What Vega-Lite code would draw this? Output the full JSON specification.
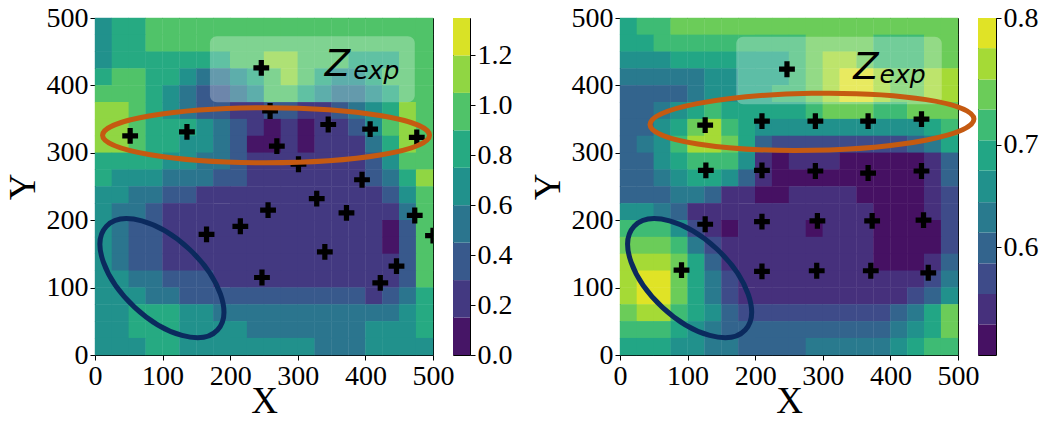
{"$schema":"https://vega.github.io/schema/vega-lite/v6.json","background":"white","padding":{"left":3,"top":3,"right":0,"bottom":0},
"config":{"font":"Liberation Serif","view":{"stroke":"black","strokeWidth":1},"axis":{"labelFont":"Liberation Serif","labelFontSize":28,"labelColor":"black","titleFont":"Liberation Serif","titleFontSize":37,"titleFontWeight":"normal","titleColor":"black","tickColor":"black","tickSize":5,"tickWidth":1,"domain":false,"grid":false,"labelFlush":false,"labelOverlap":false,"labelPadding":2,"titlePadding":4},"axisX":{"titlePadding":-7}},
"datasets":{
"LP":[{"x":52,"y":325},{"x":136,"y":331},{"x":246,"y":426},{"x":259,"y":362},{"x":345,"y":342},{"x":407,"y":335},{"x":476,"y":323},{"x":269,"y":310},{"x":301,"y":283},{"x":395,"y":260},{"x":328,"y":232},{"x":256,"y":215},{"x":372,"y":211},{"x":473,"y":207},{"x":500,"y":177},{"x":340,"y":153},{"x":446,"y":132},{"x":422,"y":107},{"x":247,"y":115},{"x":165,"y":179},{"x":215,"y":191}],
"RP":[{"x":126,"y":341},{"x":210,"y":347},{"x":289,"y":347},{"x":367,"y":347},{"x":446,"y":350},{"x":127,"y":274},{"x":210,"y":274},{"x":289,"y":273},{"x":367,"y":270},{"x":446,"y":273},{"x":126,"y":194},{"x":210,"y":198},{"x":292,"y":199},{"x":373,"y":199},{"x":449,"y":200},{"x":91,"y":126},{"x":210,"y":124},{"x":291,"y":125},{"x":371,"y":125},{"x":456,"y":122},{"x":247,"y":424}],
"LC":[{"lo":0,"hi":0.15,"z":0.07},{"lo":0.15,"hi":0.3,"z":0.22},{"lo":0.3,"hi":0.45,"z":0.37},{"lo":0.45,"hi":0.6,"z":0.52},{"lo":0.6,"hi":0.75,"z":0.67},{"lo":0.75,"hi":0.9,"z":0.82},{"lo":0.9,"hi":1.05,"z":0.97},{"lo":1.05,"hi":1.2,"z":1.12},{"lo":1.2,"hi":1.35,"z":1.27}],
"RC":[{"lo":0.457,"hi":0.504,"z":0.48},{"lo":0.504,"hi":0.545,"z":0.52},{"lo":0.545,"hi":0.582,"z":0.56},{"lo":0.582,"hi":0.616,"z":0.6},{"lo":0.616,"hi":0.647,"z":0.63},{"lo":0.647,"hi":0.677,"z":0.66},{"lo":0.677,"hi":0.704,"z":0.69},{"lo":0.704,"hi":0.73,"z":0.72},{"lo":0.73,"hi":0.754,"z":0.74},{"lo":0.754,"hi":0.778,"z":0.77},{"lo":0.778,"hi":0.8,"z":0.79}],
"L":[
{"x":12.5,"y":487.5,"z":0.67},{"x":37.5,"y":487.5,"z":0.82},{"x":62.5,"y":487.5,"z":0.82},{"x":87.5,"y":487.5,"z":0.97},{"x":112.5,"y":487.5,"z":0.97},{"x":137.5,"y":487.5,"z":0.97},{"x":162.5,"y":487.5,"z":0.97},{"x":187.5,"y":487.5,"z":0.97},{"x":212.5,"y":487.5,"z":0.97},{"x":237.5,"y":487.5,"z":0.97},{"x":262.5,"y":487.5,"z":0.97},{"x":287.5,"y":487.5,"z":0.97},{"x":312.5,"y":487.5,"z":0.97},{"x":337.5,"y":487.5,"z":0.97},{"x":362.5,"y":487.5,"z":0.97},{"x":387.5,"y":487.5,"z":0.97},{"x":412.5,"y":487.5,"z":0.97},{"x":437.5,"y":487.5,"z":0.97},{"x":462.5,"y":487.5,"z":0.97},{"x":487.5,"y":487.5,"z":0.97},
{"x":12.5,"y":462.5,"z":0.67},{"x":37.5,"y":462.5,"z":0.82},{"x":62.5,"y":462.5,"z":0.82},{"x":87.5,"y":462.5,"z":0.97},{"x":112.5,"y":462.5,"z":0.97},{"x":137.5,"y":462.5,"z":0.97},{"x":162.5,"y":462.5,"z":0.97},{"x":187.5,"y":462.5,"z":0.97},{"x":212.5,"y":462.5,"z":0.97},{"x":237.5,"y":462.5,"z":0.97},{"x":262.5,"y":462.5,"z":0.97},{"x":287.5,"y":462.5,"z":0.97},{"x":312.5,"y":462.5,"z":0.97},{"x":337.5,"y":462.5,"z":0.97},{"x":362.5,"y":462.5,"z":0.97},{"x":387.5,"y":462.5,"z":0.97},{"x":412.5,"y":462.5,"z":0.97},{"x":437.5,"y":462.5,"z":0.97},{"x":462.5,"y":462.5,"z":0.97},{"x":487.5,"y":462.5,"z":0.97},
{"x":12.5,"y":437.5,"z":0.67},{"x":37.5,"y":437.5,"z":0.82},{"x":62.5,"y":437.5,"z":0.82},{"x":87.5,"y":437.5,"z":0.82},{"x":112.5,"y":437.5,"z":0.82},{"x":137.5,"y":437.5,"z":0.82},{"x":162.5,"y":437.5,"z":0.82},{"x":187.5,"y":437.5,"z":0.82},{"x":212.5,"y":437.5,"z":0.97},{"x":237.5,"y":437.5,"z":0.97},{"x":262.5,"y":437.5,"z":1.12},{"x":287.5,"y":437.5,"z":1.12},{"x":312.5,"y":437.5,"z":0.97},{"x":337.5,"y":437.5,"z":0.97},{"x":362.5,"y":437.5,"z":0.97},{"x":387.5,"y":437.5,"z":0.82},{"x":412.5,"y":437.5,"z":0.82},{"x":437.5,"y":437.5,"z":0.82},{"x":462.5,"y":437.5,"z":0.97},{"x":487.5,"y":437.5,"z":0.97},
{"x":12.5,"y":412.5,"z":0.82},{"x":37.5,"y":412.5,"z":0.97},{"x":62.5,"y":412.5,"z":0.97},{"x":87.5,"y":412.5,"z":0.82},{"x":112.5,"y":412.5,"z":0.82},{"x":137.5,"y":412.5,"z":0.67},{"x":162.5,"y":412.5,"z":0.52},{"x":187.5,"y":412.5,"z":0.52},{"x":212.5,"y":412.5,"z":0.67},{"x":237.5,"y":412.5,"z":0.82},{"x":262.5,"y":412.5,"z":0.97},{"x":287.5,"y":412.5,"z":1.12},{"x":312.5,"y":412.5,"z":0.97},{"x":337.5,"y":412.5,"z":0.82},{"x":362.5,"y":412.5,"z":0.67},{"x":387.5,"y":412.5,"z":0.67},{"x":412.5,"y":412.5,"z":0.82},{"x":437.5,"y":412.5,"z":0.97},{"x":462.5,"y":412.5,"z":0.97},{"x":487.5,"y":412.5,"z":0.97},
{"x":12.5,"y":387.5,"z":0.97},{"x":37.5,"y":387.5,"z":0.97},{"x":62.5,"y":387.5,"z":0.97},{"x":87.5,"y":387.5,"z":0.82},{"x":112.5,"y":387.5,"z":0.67},{"x":137.5,"y":387.5,"z":0.52},{"x":162.5,"y":387.5,"z":0.37},{"x":187.5,"y":387.5,"z":0.37},{"x":212.5,"y":387.5,"z":0.52},{"x":237.5,"y":387.5,"z":0.67},{"x":262.5,"y":387.5,"z":0.97},{"x":287.5,"y":387.5,"z":0.97},{"x":312.5,"y":387.5,"z":0.82},{"x":337.5,"y":387.5,"z":0.67},{"x":362.5,"y":387.5,"z":0.52},{"x":387.5,"y":387.5,"z":0.52},{"x":412.5,"y":387.5,"z":0.67},{"x":437.5,"y":387.5,"z":0.82},{"x":462.5,"y":387.5,"z":0.97},{"x":487.5,"y":387.5,"z":0.97},
{"x":12.5,"y":362.5,"z":1.12},{"x":37.5,"y":362.5,"z":1.12},{"x":62.5,"y":362.5,"z":0.97},{"x":87.5,"y":362.5,"z":0.82},{"x":112.5,"y":362.5,"z":0.67},{"x":137.5,"y":362.5,"z":0.52},{"x":162.5,"y":362.5,"z":0.37},{"x":187.5,"y":362.5,"z":0.37},{"x":212.5,"y":362.5,"z":0.22},{"x":237.5,"y":362.5,"z":0.22},{"x":262.5,"y":362.5,"z":0.37},{"x":287.5,"y":362.5,"z":0.37},{"x":312.5,"y":362.5,"z":0.22},{"x":337.5,"y":362.5,"z":0.22},{"x":362.5,"y":362.5,"z":0.37},{"x":387.5,"y":362.5,"z":0.52},{"x":412.5,"y":362.5,"z":0.67},{"x":437.5,"y":362.5,"z":0.82},{"x":462.5,"y":362.5,"z":1.12},{"x":487.5,"y":362.5,"z":0.97},
{"x":12.5,"y":337.5,"z":1.12},{"x":37.5,"y":337.5,"z":1.12},{"x":62.5,"y":337.5,"z":0.97},{"x":87.5,"y":337.5,"z":0.82},{"x":112.5,"y":337.5,"z":0.82},{"x":137.5,"y":337.5,"z":0.82},{"x":162.5,"y":337.5,"z":0.67},{"x":187.5,"y":337.5,"z":0.52},{"x":212.5,"y":337.5,"z":0.37},{"x":237.5,"y":337.5,"z":0.22},{"x":262.5,"y":337.5,"z":0.07},{"x":287.5,"y":337.5,"z":0.22},{"x":312.5,"y":337.5,"z":0.07},{"x":337.5,"y":337.5,"z":0.22},{"x":362.5,"y":337.5,"z":0.22},{"x":387.5,"y":337.5,"z":0.37},{"x":412.5,"y":337.5,"z":0.67},{"x":437.5,"y":337.5,"z":0.97},{"x":462.5,"y":337.5,"z":1.12},{"x":487.5,"y":337.5,"z":0.97},
{"x":12.5,"y":312.5,"z":1.12},{"x":37.5,"y":312.5,"z":1.12},{"x":62.5,"y":312.5,"z":0.97},{"x":87.5,"y":312.5,"z":0.82},{"x":112.5,"y":312.5,"z":0.82},{"x":137.5,"y":312.5,"z":0.67},{"x":162.5,"y":312.5,"z":0.67},{"x":187.5,"y":312.5,"z":0.52},{"x":212.5,"y":312.5,"z":0.37},{"x":237.5,"y":312.5,"z":0.07},{"x":262.5,"y":312.5,"z":0.07},{"x":287.5,"y":312.5,"z":0.22},{"x":312.5,"y":312.5,"z":0.07},{"x":337.5,"y":312.5,"z":0.22},{"x":362.5,"y":312.5,"z":0.22},{"x":387.5,"y":312.5,"z":0.22},{"x":412.5,"y":312.5,"z":0.52},{"x":437.5,"y":312.5,"z":0.82},{"x":462.5,"y":312.5,"z":1.12},{"x":487.5,"y":312.5,"z":0.97},
{"x":12.5,"y":287.5,"z":0.82},{"x":37.5,"y":287.5,"z":0.82},{"x":62.5,"y":287.5,"z":0.82},{"x":87.5,"y":287.5,"z":0.82},{"x":112.5,"y":287.5,"z":0.67},{"x":137.5,"y":287.5,"z":0.67},{"x":162.5,"y":287.5,"z":0.52},{"x":187.5,"y":287.5,"z":0.52},{"x":212.5,"y":287.5,"z":0.37},{"x":237.5,"y":287.5,"z":0.22},{"x":262.5,"y":287.5,"z":0.22},{"x":287.5,"y":287.5,"z":0.22},{"x":312.5,"y":287.5,"z":0.22},{"x":337.5,"y":287.5,"z":0.22},{"x":362.5,"y":287.5,"z":0.22},{"x":387.5,"y":287.5,"z":0.22},{"x":412.5,"y":287.5,"z":0.37},{"x":437.5,"y":287.5,"z":0.67},{"x":462.5,"y":287.5,"z":0.97},{"x":487.5,"y":287.5,"z":0.97},
{"x":12.5,"y":262.5,"z":0.82},{"x":37.5,"y":262.5,"z":0.67},{"x":62.5,"y":262.5,"z":0.67},{"x":87.5,"y":262.5,"z":0.67},{"x":112.5,"y":262.5,"z":0.52},{"x":137.5,"y":262.5,"z":0.52},{"x":162.5,"y":262.5,"z":0.52},{"x":187.5,"y":262.5,"z":0.37},{"x":212.5,"y":262.5,"z":0.37},{"x":237.5,"y":262.5,"z":0.22},{"x":262.5,"y":262.5,"z":0.22},{"x":287.5,"y":262.5,"z":0.22},{"x":312.5,"y":262.5,"z":0.22},{"x":337.5,"y":262.5,"z":0.22},{"x":362.5,"y":262.5,"z":0.22},{"x":387.5,"y":262.5,"z":0.22},{"x":412.5,"y":262.5,"z":0.37},{"x":437.5,"y":262.5,"z":0.52},{"x":462.5,"y":262.5,"z":0.82},{"x":487.5,"y":262.5,"z":1.12},
{"x":12.5,"y":237.5,"z":0.67},{"x":37.5,"y":237.5,"z":0.67},{"x":62.5,"y":237.5,"z":0.52},{"x":87.5,"y":237.5,"z":0.52},{"x":112.5,"y":237.5,"z":0.37},{"x":137.5,"y":237.5,"z":0.37},{"x":162.5,"y":237.5,"z":0.22},{"x":187.5,"y":237.5,"z":0.22},{"x":212.5,"y":237.5,"z":0.22},{"x":237.5,"y":237.5,"z":0.22},{"x":262.5,"y":237.5,"z":0.22},{"x":287.5,"y":237.5,"z":0.22},{"x":312.5,"y":237.5,"z":0.22},{"x":337.5,"y":237.5,"z":0.22},{"x":362.5,"y":237.5,"z":0.22},{"x":387.5,"y":237.5,"z":0.22},{"x":412.5,"y":237.5,"z":0.22},{"x":437.5,"y":237.5,"z":0.37},{"x":462.5,"y":237.5,"z":0.67},{"x":487.5,"y":237.5,"z":0.97},
{"x":12.5,"y":212.5,"z":0.67},{"x":37.5,"y":212.5,"z":0.52},{"x":62.5,"y":212.5,"z":0.52},{"x":87.5,"y":212.5,"z":0.37},{"x":112.5,"y":212.5,"z":0.22},{"x":137.5,"y":212.5,"z":0.22},{"x":162.5,"y":212.5,"z":0.22},{"x":187.5,"y":212.5,"z":0.22},{"x":212.5,"y":212.5,"z":0.22},{"x":237.5,"y":212.5,"z":0.22},{"x":262.5,"y":212.5,"z":0.22},{"x":287.5,"y":212.5,"z":0.22},{"x":312.5,"y":212.5,"z":0.22},{"x":337.5,"y":212.5,"z":0.22},{"x":362.5,"y":212.5,"z":0.22},{"x":387.5,"y":212.5,"z":0.22},{"x":412.5,"y":212.5,"z":0.22},{"x":437.5,"y":212.5,"z":0.22},{"x":462.5,"y":212.5,"z":0.52},{"x":487.5,"y":212.5,"z":0.97},
{"x":12.5,"y":187.5,"z":0.67},{"x":37.5,"y":187.5,"z":0.52},{"x":62.5,"y":187.5,"z":0.37},{"x":87.5,"y":187.5,"z":0.37},{"x":112.5,"y":187.5,"z":0.22},{"x":137.5,"y":187.5,"z":0.22},{"x":162.5,"y":187.5,"z":0.22},{"x":187.5,"y":187.5,"z":0.22},{"x":212.5,"y":187.5,"z":0.22},{"x":237.5,"y":187.5,"z":0.22},{"x":262.5,"y":187.5,"z":0.22},{"x":287.5,"y":187.5,"z":0.22},{"x":312.5,"y":187.5,"z":0.22},{"x":337.5,"y":187.5,"z":0.22},{"x":362.5,"y":187.5,"z":0.22},{"x":387.5,"y":187.5,"z":0.22},{"x":412.5,"y":187.5,"z":0.22},{"x":437.5,"y":187.5,"z":0.07},{"x":462.5,"y":187.5,"z":0.37},{"x":487.5,"y":187.5,"z":0.97},
{"x":12.5,"y":162.5,"z":0.67},{"x":37.5,"y":162.5,"z":0.52},{"x":62.5,"y":162.5,"z":0.37},{"x":87.5,"y":162.5,"z":0.37},{"x":112.5,"y":162.5,"z":0.22},{"x":137.5,"y":162.5,"z":0.22},{"x":162.5,"y":162.5,"z":0.22},{"x":187.5,"y":162.5,"z":0.22},{"x":212.5,"y":162.5,"z":0.22},{"x":237.5,"y":162.5,"z":0.22},{"x":262.5,"y":162.5,"z":0.22},{"x":287.5,"y":162.5,"z":0.22},{"x":312.5,"y":162.5,"z":0.22},{"x":337.5,"y":162.5,"z":0.22},{"x":362.5,"y":162.5,"z":0.22},{"x":387.5,"y":162.5,"z":0.22},{"x":412.5,"y":162.5,"z":0.22},{"x":437.5,"y":162.5,"z":0.07},{"x":462.5,"y":162.5,"z":0.37},{"x":487.5,"y":162.5,"z":0.97},
{"x":12.5,"y":137.5,"z":0.67},{"x":37.5,"y":137.5,"z":0.52},{"x":62.5,"y":137.5,"z":0.37},{"x":87.5,"y":137.5,"z":0.37},{"x":112.5,"y":137.5,"z":0.22},{"x":137.5,"y":137.5,"z":0.22},{"x":162.5,"y":137.5,"z":0.22},{"x":187.5,"y":137.5,"z":0.22},{"x":212.5,"y":137.5,"z":0.22},{"x":237.5,"y":137.5,"z":0.22},{"x":262.5,"y":137.5,"z":0.22},{"x":287.5,"y":137.5,"z":0.22},{"x":312.5,"y":137.5,"z":0.22},{"x":337.5,"y":137.5,"z":0.22},{"x":362.5,"y":137.5,"z":0.22},{"x":387.5,"y":137.5,"z":0.22},{"x":412.5,"y":137.5,"z":0.22},{"x":437.5,"y":137.5,"z":0.22},{"x":462.5,"y":137.5,"z":0.37},{"x":487.5,"y":137.5,"z":0.97},
{"x":12.5,"y":112.5,"z":0.67},{"x":37.5,"y":112.5,"z":0.67},{"x":62.5,"y":112.5,"z":0.52},{"x":87.5,"y":112.5,"z":0.52},{"x":112.5,"y":112.5,"z":0.37},{"x":137.5,"y":112.5,"z":0.37},{"x":162.5,"y":112.5,"z":0.37},{"x":187.5,"y":112.5,"z":0.22},{"x":212.5,"y":112.5,"z":0.22},{"x":237.5,"y":112.5,"z":0.22},{"x":262.5,"y":112.5,"z":0.22},{"x":287.5,"y":112.5,"z":0.22},{"x":312.5,"y":112.5,"z":0.22},{"x":337.5,"y":112.5,"z":0.22},{"x":362.5,"y":112.5,"z":0.22},{"x":387.5,"y":112.5,"z":0.22},{"x":412.5,"y":112.5,"z":0.22},{"x":437.5,"y":112.5,"z":0.22},{"x":462.5,"y":112.5,"z":0.37},{"x":487.5,"y":112.5,"z":0.97},
{"x":12.5,"y":87.5,"z":0.67},{"x":37.5,"y":87.5,"z":0.67},{"x":62.5,"y":87.5,"z":0.67},{"x":87.5,"y":87.5,"z":0.52},{"x":112.5,"y":87.5,"z":0.52},{"x":137.5,"y":87.5,"z":0.37},{"x":162.5,"y":87.5,"z":0.37},{"x":187.5,"y":87.5,"z":0.37},{"x":212.5,"y":87.5,"z":0.37},{"x":237.5,"y":87.5,"z":0.37},{"x":262.5,"y":87.5,"z":0.37},{"x":287.5,"y":87.5,"z":0.37},{"x":312.5,"y":87.5,"z":0.37},{"x":337.5,"y":87.5,"z":0.37},{"x":362.5,"y":87.5,"z":0.37},{"x":387.5,"y":87.5,"z":0.37},{"x":412.5,"y":87.5,"z":0.22},{"x":437.5,"y":87.5,"z":0.37},{"x":462.5,"y":87.5,"z":0.52},{"x":487.5,"y":87.5,"z":0.82},
{"x":12.5,"y":62.5,"z":0.67},{"x":37.5,"y":62.5,"z":0.67},{"x":62.5,"y":62.5,"z":0.82},{"x":87.5,"y":62.5,"z":0.82},{"x":112.5,"y":62.5,"z":0.82},{"x":137.5,"y":62.5,"z":0.67},{"x":162.5,"y":62.5,"z":0.67},{"x":187.5,"y":62.5,"z":0.52},{"x":212.5,"y":62.5,"z":0.52},{"x":237.5,"y":62.5,"z":0.52},{"x":262.5,"y":62.5,"z":0.52},{"x":287.5,"y":62.5,"z":0.52},{"x":312.5,"y":62.5,"z":0.52},{"x":337.5,"y":62.5,"z":0.52},{"x":362.5,"y":62.5,"z":0.52},{"x":387.5,"y":62.5,"z":0.52},{"x":412.5,"y":62.5,"z":0.52},{"x":437.5,"y":62.5,"z":0.52},{"x":462.5,"y":62.5,"z":0.67},{"x":487.5,"y":62.5,"z":0.82},
{"x":12.5,"y":37.5,"z":0.67},{"x":37.5,"y":37.5,"z":0.67},{"x":62.5,"y":37.5,"z":0.82},{"x":87.5,"y":37.5,"z":0.82},{"x":112.5,"y":37.5,"z":0.82},{"x":137.5,"y":37.5,"z":0.67},{"x":162.5,"y":37.5,"z":0.67},{"x":187.5,"y":37.5,"z":0.67},{"x":212.5,"y":37.5,"z":0.67},{"x":237.5,"y":37.5,"z":0.52},{"x":262.5,"y":37.5,"z":0.52},{"x":287.5,"y":37.5,"z":0.52},{"x":312.5,"y":37.5,"z":0.52},{"x":337.5,"y":37.5,"z":0.52},{"x":362.5,"y":37.5,"z":0.52},{"x":387.5,"y":37.5,"z":0.52},{"x":412.5,"y":37.5,"z":0.67},{"x":437.5,"y":37.5,"z":0.67},{"x":462.5,"y":37.5,"z":0.67},{"x":487.5,"y":37.5,"z":0.82},
{"x":12.5,"y":12.5,"z":0.67},{"x":37.5,"y":12.5,"z":0.67},{"x":62.5,"y":12.5,"z":0.67},{"x":87.5,"y":12.5,"z":0.82},{"x":112.5,"y":12.5,"z":0.82},{"x":137.5,"y":12.5,"z":0.67},{"x":162.5,"y":12.5,"z":0.67},{"x":187.5,"y":12.5,"z":0.67},{"x":212.5,"y":12.5,"z":0.67},{"x":237.5,"y":12.5,"z":0.67},{"x":262.5,"y":12.5,"z":0.67},{"x":287.5,"y":12.5,"z":0.67},{"x":312.5,"y":12.5,"z":0.67},{"x":337.5,"y":12.5,"z":0.52},{"x":362.5,"y":12.5,"z":0.52},{"x":387.5,"y":12.5,"z":0.52},{"x":412.5,"y":12.5,"z":0.67},{"x":437.5,"y":12.5,"z":0.67},{"x":462.5,"y":12.5,"z":0.67},{"x":487.5,"y":12.5,"z":0.67}],
"R":[
{"x":12.5,"y":487.5,"z":0.69},{"x":37.5,"y":487.5,"z":0.72},{"x":62.5,"y":487.5,"z":0.72},{"x":87.5,"y":487.5,"z":0.74},{"x":112.5,"y":487.5,"z":0.74},{"x":137.5,"y":487.5,"z":0.74},{"x":162.5,"y":487.5,"z":0.74},{"x":187.5,"y":487.5,"z":0.74},{"x":212.5,"y":487.5,"z":0.74},{"x":237.5,"y":487.5,"z":0.74},{"x":262.5,"y":487.5,"z":0.74},{"x":287.5,"y":487.5,"z":0.74},{"x":312.5,"y":487.5,"z":0.74},{"x":337.5,"y":487.5,"z":0.74},{"x":362.5,"y":487.5,"z":0.74},{"x":387.5,"y":487.5,"z":0.74},{"x":412.5,"y":487.5,"z":0.74},{"x":437.5,"y":487.5,"z":0.74},{"x":462.5,"y":487.5,"z":0.74},{"x":487.5,"y":487.5,"z":0.74},
{"x":12.5,"y":462.5,"z":0.69},{"x":37.5,"y":462.5,"z":0.69},{"x":62.5,"y":462.5,"z":0.72},{"x":87.5,"y":462.5,"z":0.72},{"x":112.5,"y":462.5,"z":0.72},{"x":137.5,"y":462.5,"z":0.72},{"x":162.5,"y":462.5,"z":0.72},{"x":187.5,"y":462.5,"z":0.72},{"x":212.5,"y":462.5,"z":0.72},{"x":237.5,"y":462.5,"z":0.72},{"x":262.5,"y":462.5,"z":0.72},{"x":287.5,"y":462.5,"z":0.74},{"x":312.5,"y":462.5,"z":0.74},{"x":337.5,"y":462.5,"z":0.74},{"x":362.5,"y":462.5,"z":0.74},{"x":387.5,"y":462.5,"z":0.72},{"x":412.5,"y":462.5,"z":0.72},{"x":437.5,"y":462.5,"z":0.72},{"x":462.5,"y":462.5,"z":0.74},{"x":487.5,"y":462.5,"z":0.74},
{"x":12.5,"y":437.5,"z":0.66},{"x":37.5,"y":437.5,"z":0.66},{"x":62.5,"y":437.5,"z":0.66},{"x":87.5,"y":437.5,"z":0.69},{"x":112.5,"y":437.5,"z":0.69},{"x":137.5,"y":437.5,"z":0.69},{"x":162.5,"y":437.5,"z":0.69},{"x":187.5,"y":437.5,"z":0.69},{"x":212.5,"y":437.5,"z":0.69},{"x":237.5,"y":437.5,"z":0.69},{"x":262.5,"y":437.5,"z":0.72},{"x":287.5,"y":437.5,"z":0.74},{"x":312.5,"y":437.5,"z":0.77},{"x":337.5,"y":437.5,"z":0.77},{"x":362.5,"y":437.5,"z":0.74},{"x":387.5,"y":437.5,"z":0.72},{"x":412.5,"y":437.5,"z":0.72},{"x":437.5,"y":437.5,"z":0.72},{"x":462.5,"y":437.5,"z":0.74},{"x":487.5,"y":437.5,"z":0.74},
{"x":12.5,"y":412.5,"z":0.63},{"x":37.5,"y":412.5,"z":0.63},{"x":62.5,"y":412.5,"z":0.63},{"x":87.5,"y":412.5,"z":0.63},{"x":112.5,"y":412.5,"z":0.63},{"x":137.5,"y":412.5,"z":0.66},{"x":162.5,"y":412.5,"z":0.66},{"x":187.5,"y":412.5,"z":0.69},{"x":212.5,"y":412.5,"z":0.69},{"x":237.5,"y":412.5,"z":0.69},{"x":262.5,"y":412.5,"z":0.72},{"x":287.5,"y":412.5,"z":0.74},{"x":312.5,"y":412.5,"z":0.77},{"x":337.5,"y":412.5,"z":0.79},{"x":362.5,"y":412.5,"z":0.79},{"x":387.5,"y":412.5,"z":0.77},{"x":412.5,"y":412.5,"z":0.74},{"x":437.5,"y":412.5,"z":0.74},{"x":462.5,"y":412.5,"z":0.77},{"x":487.5,"y":412.5,"z":0.77},
{"x":12.5,"y":387.5,"z":0.6},{"x":37.5,"y":387.5,"z":0.6},{"x":62.5,"y":387.5,"z":0.6},{"x":87.5,"y":387.5,"z":0.6},{"x":112.5,"y":387.5,"z":0.63},{"x":137.5,"y":387.5,"z":0.66},{"x":162.5,"y":387.5,"z":0.66},{"x":187.5,"y":387.5,"z":0.69},{"x":212.5,"y":387.5,"z":0.69},{"x":237.5,"y":387.5,"z":0.72},{"x":262.5,"y":387.5,"z":0.72},{"x":287.5,"y":387.5,"z":0.74},{"x":312.5,"y":387.5,"z":0.77},{"x":337.5,"y":387.5,"z":0.79},{"x":362.5,"y":387.5,"z":0.79},{"x":387.5,"y":387.5,"z":0.77},{"x":412.5,"y":387.5,"z":0.74},{"x":437.5,"y":387.5,"z":0.74},{"x":462.5,"y":387.5,"z":0.77},{"x":487.5,"y":387.5,"z":0.77},
{"x":12.5,"y":362.5,"z":0.6},{"x":37.5,"y":362.5,"z":0.6},{"x":62.5,"y":362.5,"z":0.63},{"x":87.5,"y":362.5,"z":0.66},{"x":112.5,"y":362.5,"z":0.69},{"x":137.5,"y":362.5,"z":0.72},{"x":162.5,"y":362.5,"z":0.69},{"x":187.5,"y":362.5,"z":0.69},{"x":212.5,"y":362.5,"z":0.69},{"x":237.5,"y":362.5,"z":0.69},{"x":262.5,"y":362.5,"z":0.69},{"x":287.5,"y":362.5,"z":0.72},{"x":312.5,"y":362.5,"z":0.74},{"x":337.5,"y":362.5,"z":0.74},{"x":362.5,"y":362.5,"z":0.74},{"x":387.5,"y":362.5,"z":0.72},{"x":412.5,"y":362.5,"z":0.72},{"x":437.5,"y":362.5,"z":0.74},{"x":462.5,"y":362.5,"z":0.74},{"x":487.5,"y":362.5,"z":0.74},
{"x":12.5,"y":337.5,"z":0.6},{"x":37.5,"y":337.5,"z":0.6},{"x":62.5,"y":337.5,"z":0.66},{"x":87.5,"y":337.5,"z":0.69},{"x":112.5,"y":337.5,"z":0.74},{"x":137.5,"y":337.5,"z":0.77},{"x":162.5,"y":337.5,"z":0.72},{"x":187.5,"y":337.5,"z":0.69},{"x":212.5,"y":337.5,"z":0.66},{"x":237.5,"y":337.5,"z":0.66},{"x":262.5,"y":337.5,"z":0.66},{"x":287.5,"y":337.5,"z":0.66},{"x":312.5,"y":337.5,"z":0.66},{"x":337.5,"y":337.5,"z":0.66},{"x":362.5,"y":337.5,"z":0.66},{"x":387.5,"y":337.5,"z":0.66},{"x":412.5,"y":337.5,"z":0.66},{"x":437.5,"y":337.5,"z":0.66},{"x":462.5,"y":337.5,"z":0.69},{"x":487.5,"y":337.5,"z":0.72},
{"x":12.5,"y":312.5,"z":0.6},{"x":37.5,"y":312.5,"z":0.63},{"x":62.5,"y":312.5,"z":0.66},{"x":87.5,"y":312.5,"z":0.72},{"x":112.5,"y":312.5,"z":0.77},{"x":137.5,"y":312.5,"z":0.77},{"x":162.5,"y":312.5,"z":0.74},{"x":187.5,"y":312.5,"z":0.69},{"x":212.5,"y":312.5,"z":0.6},{"x":237.5,"y":312.5,"z":0.56},{"x":262.5,"y":312.5,"z":0.56},{"x":287.5,"y":312.5,"z":0.56},{"x":312.5,"y":312.5,"z":0.56},{"x":337.5,"y":312.5,"z":0.56},{"x":362.5,"y":312.5,"z":0.56},{"x":387.5,"y":312.5,"z":0.56},{"x":412.5,"y":312.5,"z":0.56},{"x":437.5,"y":312.5,"z":0.6},{"x":462.5,"y":312.5,"z":0.63},{"x":487.5,"y":312.5,"z":0.69},
{"x":12.5,"y":287.5,"z":0.6},{"x":37.5,"y":287.5,"z":0.6},{"x":62.5,"y":287.5,"z":0.66},{"x":87.5,"y":287.5,"z":0.69},{"x":112.5,"y":287.5,"z":0.72},{"x":137.5,"y":287.5,"z":0.72},{"x":162.5,"y":287.5,"z":0.72},{"x":187.5,"y":287.5,"z":0.66},{"x":212.5,"y":287.5,"z":0.52},{"x":237.5,"y":287.5,"z":0.48},{"x":262.5,"y":287.5,"z":0.52},{"x":287.5,"y":287.5,"z":0.52},{"x":312.5,"y":287.5,"z":0.52},{"x":337.5,"y":287.5,"z":0.48},{"x":362.5,"y":287.5,"z":0.48},{"x":387.5,"y":287.5,"z":0.48},{"x":412.5,"y":287.5,"z":0.48},{"x":437.5,"y":287.5,"z":0.48},{"x":462.5,"y":287.5,"z":0.52},{"x":487.5,"y":287.5,"z":0.6},
{"x":12.5,"y":262.5,"z":0.6},{"x":37.5,"y":262.5,"z":0.6},{"x":62.5,"y":262.5,"z":0.63},{"x":87.5,"y":262.5,"z":0.66},{"x":112.5,"y":262.5,"z":0.69},{"x":137.5,"y":262.5,"z":0.69},{"x":162.5,"y":262.5,"z":0.66},{"x":187.5,"y":262.5,"z":0.6},{"x":212.5,"y":262.5,"z":0.52},{"x":237.5,"y":262.5,"z":0.48},{"x":262.5,"y":262.5,"z":0.48},{"x":287.5,"y":262.5,"z":0.48},{"x":312.5,"y":262.5,"z":0.48},{"x":337.5,"y":262.5,"z":0.48},{"x":362.5,"y":262.5,"z":0.48},{"x":387.5,"y":262.5,"z":0.48},{"x":412.5,"y":262.5,"z":0.48},{"x":437.5,"y":262.5,"z":0.48},{"x":462.5,"y":262.5,"z":0.52},{"x":487.5,"y":262.5,"z":0.6},
{"x":12.5,"y":237.5,"z":0.6},{"x":37.5,"y":237.5,"z":0.6},{"x":62.5,"y":237.5,"z":0.6},{"x":87.5,"y":237.5,"z":0.63},{"x":112.5,"y":237.5,"z":0.63},{"x":137.5,"y":237.5,"z":0.6},{"x":162.5,"y":237.5,"z":0.52},{"x":187.5,"y":237.5,"z":0.52},{"x":212.5,"y":237.5,"z":0.48},{"x":237.5,"y":237.5,"z":0.48},{"x":262.5,"y":237.5,"z":0.52},{"x":287.5,"y":237.5,"z":0.52},{"x":312.5,"y":237.5,"z":0.52},{"x":337.5,"y":237.5,"z":0.52},{"x":362.5,"y":237.5,"z":0.48},{"x":387.5,"y":237.5,"z":0.48},{"x":412.5,"y":237.5,"z":0.48},{"x":437.5,"y":237.5,"z":0.48},{"x":462.5,"y":237.5,"z":0.52},{"x":487.5,"y":237.5,"z":0.56},
{"x":12.5,"y":212.5,"z":0.66},{"x":37.5,"y":212.5,"z":0.66},{"x":62.5,"y":212.5,"z":0.63},{"x":87.5,"y":212.5,"z":0.6},{"x":112.5,"y":212.5,"z":0.52},{"x":137.5,"y":212.5,"z":0.52},{"x":162.5,"y":212.5,"z":0.52},{"x":187.5,"y":212.5,"z":0.52},{"x":212.5,"y":212.5,"z":0.52},{"x":237.5,"y":212.5,"z":0.52},{"x":262.5,"y":212.5,"z":0.52},{"x":287.5,"y":212.5,"z":0.52},{"x":312.5,"y":212.5,"z":0.52},{"x":337.5,"y":212.5,"z":0.52},{"x":362.5,"y":212.5,"z":0.52},{"x":387.5,"y":212.5,"z":0.48},{"x":412.5,"y":212.5,"z":0.48},{"x":437.5,"y":212.5,"z":0.48},{"x":462.5,"y":212.5,"z":0.52},{"x":487.5,"y":212.5,"z":0.56},
{"x":12.5,"y":187.5,"z":0.72},{"x":37.5,"y":187.5,"z":0.72},{"x":62.5,"y":187.5,"z":0.72},{"x":87.5,"y":187.5,"z":0.66},{"x":112.5,"y":187.5,"z":0.56},{"x":137.5,"y":187.5,"z":0.52},{"x":162.5,"y":187.5,"z":0.48},{"x":187.5,"y":187.5,"z":0.52},{"x":212.5,"y":187.5,"z":0.52},{"x":237.5,"y":187.5,"z":0.52},{"x":262.5,"y":187.5,"z":0.52},{"x":287.5,"y":187.5,"z":0.48},{"x":312.5,"y":187.5,"z":0.52},{"x":337.5,"y":187.5,"z":0.52},{"x":362.5,"y":187.5,"z":0.52},{"x":387.5,"y":187.5,"z":0.48},{"x":412.5,"y":187.5,"z":0.48},{"x":437.5,"y":187.5,"z":0.48},{"x":462.5,"y":187.5,"z":0.48},{"x":487.5,"y":187.5,"z":0.56},
{"x":12.5,"y":162.5,"z":0.74},{"x":37.5,"y":162.5,"z":0.74},{"x":62.5,"y":162.5,"z":0.74},{"x":87.5,"y":162.5,"z":0.72},{"x":112.5,"y":162.5,"z":0.63},{"x":137.5,"y":162.5,"z":0.56},{"x":162.5,"y":162.5,"z":0.52},{"x":187.5,"y":162.5,"z":0.52},{"x":212.5,"y":162.5,"z":0.52},{"x":237.5,"y":162.5,"z":0.52},{"x":262.5,"y":162.5,"z":0.52},{"x":287.5,"y":162.5,"z":0.52},{"x":312.5,"y":162.5,"z":0.52},{"x":337.5,"y":162.5,"z":0.52},{"x":362.5,"y":162.5,"z":0.52},{"x":387.5,"y":162.5,"z":0.48},{"x":412.5,"y":162.5,"z":0.48},{"x":437.5,"y":162.5,"z":0.48},{"x":462.5,"y":162.5,"z":0.48},{"x":487.5,"y":162.5,"z":0.56},
{"x":12.5,"y":137.5,"z":0.77},{"x":37.5,"y":137.5,"z":0.77},{"x":62.5,"y":137.5,"z":0.77},{"x":87.5,"y":137.5,"z":0.74},{"x":112.5,"y":137.5,"z":0.69},{"x":137.5,"y":137.5,"z":0.6},{"x":162.5,"y":137.5,"z":0.52},{"x":187.5,"y":137.5,"z":0.52},{"x":212.5,"y":137.5,"z":0.52},{"x":237.5,"y":137.5,"z":0.52},{"x":262.5,"y":137.5,"z":0.52},{"x":287.5,"y":137.5,"z":0.52},{"x":312.5,"y":137.5,"z":0.52},{"x":337.5,"y":137.5,"z":0.52},{"x":362.5,"y":137.5,"z":0.52},{"x":387.5,"y":137.5,"z":0.48},{"x":412.5,"y":137.5,"z":0.48},{"x":437.5,"y":137.5,"z":0.48},{"x":462.5,"y":137.5,"z":0.52},{"x":487.5,"y":137.5,"z":0.6},
{"x":12.5,"y":112.5,"z":0.77},{"x":37.5,"y":112.5,"z":0.79},{"x":62.5,"y":112.5,"z":0.79},{"x":87.5,"y":112.5,"z":0.74},{"x":112.5,"y":112.5,"z":0.69},{"x":137.5,"y":112.5,"z":0.63},{"x":162.5,"y":112.5,"z":0.56},{"x":187.5,"y":112.5,"z":0.52},{"x":212.5,"y":112.5,"z":0.52},{"x":237.5,"y":112.5,"z":0.52},{"x":262.5,"y":112.5,"z":0.52},{"x":287.5,"y":112.5,"z":0.52},{"x":312.5,"y":112.5,"z":0.52},{"x":337.5,"y":112.5,"z":0.52},{"x":362.5,"y":112.5,"z":0.52},{"x":387.5,"y":112.5,"z":0.52},{"x":412.5,"y":112.5,"z":0.52},{"x":437.5,"y":112.5,"z":0.52},{"x":462.5,"y":112.5,"z":0.56},{"x":487.5,"y":112.5,"z":0.63},
{"x":12.5,"y":87.5,"z":0.77},{"x":37.5,"y":87.5,"z":0.79},{"x":62.5,"y":87.5,"z":0.79},{"x":87.5,"y":87.5,"z":0.74},{"x":112.5,"y":87.5,"z":0.69},{"x":137.5,"y":87.5,"z":0.63},{"x":162.5,"y":87.5,"z":0.56},{"x":187.5,"y":87.5,"z":0.52},{"x":212.5,"y":87.5,"z":0.52},{"x":237.5,"y":87.5,"z":0.52},{"x":262.5,"y":87.5,"z":0.52},{"x":287.5,"y":87.5,"z":0.52},{"x":312.5,"y":87.5,"z":0.52},{"x":337.5,"y":87.5,"z":0.52},{"x":362.5,"y":87.5,"z":0.52},{"x":387.5,"y":87.5,"z":0.52},{"x":412.5,"y":87.5,"z":0.52},{"x":437.5,"y":87.5,"z":0.56},{"x":462.5,"y":87.5,"z":0.6},{"x":487.5,"y":87.5,"z":0.66},
{"x":12.5,"y":62.5,"z":0.74},{"x":37.5,"y":62.5,"z":0.77},{"x":62.5,"y":62.5,"z":0.77},{"x":87.5,"y":62.5,"z":0.72},{"x":112.5,"y":62.5,"z":0.69},{"x":137.5,"y":62.5,"z":0.66},{"x":162.5,"y":62.5,"z":0.6},{"x":187.5,"y":62.5,"z":0.56},{"x":212.5,"y":62.5,"z":0.56},{"x":237.5,"y":62.5,"z":0.56},{"x":262.5,"y":62.5,"z":0.56},{"x":287.5,"y":62.5,"z":0.56},{"x":312.5,"y":62.5,"z":0.56},{"x":337.5,"y":62.5,"z":0.56},{"x":362.5,"y":62.5,"z":0.56},{"x":387.5,"y":62.5,"z":0.56},{"x":412.5,"y":62.5,"z":0.6},{"x":437.5,"y":62.5,"z":0.63},{"x":462.5,"y":62.5,"z":0.69},{"x":487.5,"y":62.5,"z":0.74},
{"x":12.5,"y":37.5,"z":0.72},{"x":37.5,"y":37.5,"z":0.72},{"x":62.5,"y":37.5,"z":0.72},{"x":87.5,"y":37.5,"z":0.69},{"x":112.5,"y":37.5,"z":0.66},{"x":137.5,"y":37.5,"z":0.63},{"x":162.5,"y":37.5,"z":0.6},{"x":187.5,"y":37.5,"z":0.6},{"x":212.5,"y":37.5,"z":0.6},{"x":237.5,"y":37.5,"z":0.6},{"x":262.5,"y":37.5,"z":0.6},{"x":287.5,"y":37.5,"z":0.6},{"x":312.5,"y":37.5,"z":0.6},{"x":337.5,"y":37.5,"z":0.6},{"x":362.5,"y":37.5,"z":0.6},{"x":387.5,"y":37.5,"z":0.6},{"x":412.5,"y":37.5,"z":0.63},{"x":437.5,"y":37.5,"z":0.66},{"x":462.5,"y":37.5,"z":0.69},{"x":487.5,"y":37.5,"z":0.74},
{"x":12.5,"y":12.5,"z":0.69},{"x":37.5,"y":12.5,"z":0.69},{"x":62.5,"y":12.5,"z":0.69},{"x":87.5,"y":12.5,"z":0.66},{"x":112.5,"y":12.5,"z":0.66},{"x":137.5,"y":12.5,"z":0.63},{"x":162.5,"y":12.5,"z":0.63},{"x":187.5,"y":12.5,"z":0.6},{"x":212.5,"y":12.5,"z":0.6},{"x":237.5,"y":12.5,"z":0.6},{"x":262.5,"y":12.5,"z":0.6},{"x":287.5,"y":12.5,"z":0.63},{"x":312.5,"y":12.5,"z":0.63},{"x":337.5,"y":12.5,"z":0.63},{"x":362.5,"y":12.5,"z":0.63},{"x":387.5,"y":12.5,"z":0.63},{"x":412.5,"y":12.5,"z":0.66},{"x":437.5,"y":12.5,"z":0.69},{"x":462.5,"y":12.5,"z":0.72},{"x":487.5,"y":12.5,"z":0.72}]
},
"resolve":{"scale":{"color":"independent","x":"independent","y":"independent"}},
"spacing":20,"bounds":"flush",
"hconcat":[
{"width":338,"height":337,"layer":[
{"data":{"name":"L"},"mark":{"type":"rect","width":17.3,"height":17.3},"encoding":{
"x":{"field":"x","type":"quantitative","scale":{"domain":[0,500],"nice":false,"zero":false},"axis":{"values":[0,100,200,300,400,500],"title":"X"}},
"y":{"field":"y","type":"quantitative","scale":{"domain":[0,500],"nice":false,"zero":false},"axis":{"values":[0,100,200,300,400,500],"title":"Y"}},
"color":{"field":"z","type":"quantitative","scale":{"type":"threshold","domain":[0.15,0.3,0.45,0.6,0.75,0.9,1.05,1.2],"range":["#461566","#433981","#38598c","#2b758e","#21918c","#26aa82","#50c369","#90d643","#d9e226"]},"legend":null}}},
{"data":{"values":[{"x":170,"x2":473,"y":375,"y2":473}]},"mark":{"type":"rect","fill":"white","opacity":0.27,"cornerRadius":7},"encoding":{"x":{"field":"x","type":"quantitative"},"x2":{"field":"x2"},"y":{"field":"y","type":"quantitative"},"y2":{"field":"y2"}}},
{"data":{"name":"LP"},"mark":{"type":"point","shape":"M-0.33,-1H0.33V-0.33H1V0.33H0.33V1H-0.33V0.33H-1V-0.33H-0.33Z","filled":true,"color":"black","opacity":1,"size":250,"clip":true},"encoding":{"x":{"field":"x","type":"quantitative"},"y":{"field":"y","type":"quantitative"}}},
{"data":{"values":[{"x":253,"y":326}]},"mark":{"type":"point","shape":"M-1,0C-1,-0.093,-0.552,-0.168,0,-0.168C0.552,-0.168,1,-0.093,1,0C1,0.093,0.552,0.168,0,0.168C-0.552,0.168,-1,0.093,-1,0Z","filled":false,"stroke":"#c55a11","strokeWidth":5,"opacity":1,"size":106929},"encoding":{"x":{"field":"x","type":"quantitative"},"y":{"field":"y","type":"quantitative"}}},
{"data":{"values":[{"x":99,"y":114}]},"mark":{"type":"point","shape":"M-1,0C-1,-0.29,-0.552,-0.525,0,-0.525C0.552,-0.525,1,-0.29,1,0C1,0.29,0.552,0.525,0,0.525C-0.552,0.525,-1,0.29,-1,0Z","filled":false,"stroke":"#0b2a5e","strokeWidth":5,"opacity":1,"size":23104,"angle":43},"encoding":{"x":{"field":"x","type":"quantitative"},"y":{"field":"y","type":"quantitative"}}},
{"data":{"values":[{"x":340,"y":414,"t":"Z"}]},"mark":{"type":"text","font":"DejaVu Sans","fontStyle":"italic","fontSize":37,"align":"left","baseline":"alphabetic","color":"black"},"encoding":{"x":{"field":"x","type":"quantitative"},"y":{"field":"y","type":"quantitative"},"text":{"field":"t"}}},
{"data":{"values":[{"x":382,"y":409,"t":"exp"}]},"mark":{"type":"text","font":"DejaVu Sans","fontStyle":"italic","fontSize":25,"align":"left","baseline":"alphabetic","color":"black"},"encoding":{"x":{"field":"x","type":"quantitative"},"y":{"field":"y","type":"quantitative"},"text":{"field":"t"}}}
]},
{"width":17,"height":337,"data":{"name":"LC"},"mark":"rect","encoding":{
"y":{"field":"lo","type":"quantitative","scale":{"domain":[0,1.35],"nice":false,"zero":false},"axis":{"orient":"right","values":[0,0.2,0.4,0.6,0.8,1.0,1.2],"format":".1f","title":null}},
"y2":{"field":"hi"},
"color":{"field":"z","type":"quantitative","scale":{"type":"threshold","domain":[0.15,0.3,0.45,0.6,0.75,0.9,1.05,1.2],"range":["#461566","#433981","#38598c","#2b758e","#21918c","#26aa82","#50c369","#90d643","#d9e226"]},"legend":null}}},
{"width":110,"height":337,"view":{"stroke":null},"data":{"values":[{"v":0}]},"mark":{"type":"point","opacity":0},"encoding":{"x":{"field":"v","type":"quantitative","axis":null},"y":{"field":"v","type":"quantitative","axis":null}}},
{"width":338,"height":337,"layer":[
{"data":{"name":"R"},"mark":{"type":"rect","width":17.3,"height":17.3},"encoding":{
"x":{"field":"x","type":"quantitative","scale":{"domain":[0,500],"nice":false,"zero":false},"axis":{"values":[0,100,200,300,400,500],"title":"X"}},
"y":{"field":"y","type":"quantitative","scale":{"domain":[0,500],"nice":false,"zero":false},"axis":{"values":[0,100,200,300,400,500],"title":"Y"}},
"color":{"field":"z","type":"quantitative","scale":{"type":"threshold","domain":[0.504,0.545,0.582,0.616,0.647,0.677,0.704,0.73,0.754,0.778],"range":["#461163","#46307c","#3e4b89","#33648d","#297a8e","#21918c","#22a685","#3ebb74","#6bcc59","#a5da36","#e0e326"]},"legend":null}}},
{"data":{"values":[{"x":172,"x2":476,"y":372,"y2":472}]},"mark":{"type":"rect","fill":"white","opacity":0.27,"cornerRadius":7},"encoding":{"x":{"field":"x","type":"quantitative"},"x2":{"field":"x2"},"y":{"field":"y","type":"quantitative"},"y2":{"field":"y2"}}},
{"data":{"name":"RP"},"mark":{"type":"point","shape":"M-0.33,-1H0.33V-0.33H1V0.33H0.33V1H-0.33V0.33H-1V-0.33H-0.33Z","filled":true,"color":"black","opacity":1,"size":250,"clip":true},"encoding":{"x":{"field":"x","type":"quantitative"},"y":{"field":"y","type":"quantitative"}}},
{"data":{"values":[{"x":284,"y":346}]},"mark":{"type":"point","shape":"M-1,0C-1,-0.097,-0.552,-0.176,0,-0.176C0.552,-0.176,1,-0.097,1,0C1,0.097,0.552,0.176,0,0.176C-0.552,0.176,-1,0.097,-1,0Z","filled":false,"stroke":"#c55a11","strokeWidth":5,"opacity":1,"size":104976,"angle":-1},"encoding":{"x":{"field":"x","type":"quantitative"},"y":{"field":"y","type":"quantitative"}}},
{"data":{"values":[{"x":103,"y":114}]},"mark":{"type":"point","shape":"M-1,0C-1,-0.29,-0.552,-0.525,0,-0.525C0.552,-0.525,1,-0.29,1,0C1,0.29,0.552,0.525,0,0.525C-0.552,0.525,-1,0.29,-1,0Z","filled":false,"stroke":"#0b2a5e","strokeWidth":5,"opacity":1,"size":23104,"angle":43},"encoding":{"x":{"field":"x","type":"quantitative"},"y":{"field":"y","type":"quantitative"}}},
{"data":{"values":[{"x":345,"y":410,"t":"Z"}]},"mark":{"type":"text","font":"DejaVu Sans","fontStyle":"italic","fontSize":37,"align":"left","baseline":"alphabetic","color":"black"},"encoding":{"x":{"field":"x","type":"quantitative"},"y":{"field":"y","type":"quantitative"},"text":{"field":"t"}}},
{"data":{"values":[{"x":384,"y":404,"t":"exp"}]},"mark":{"type":"text","font":"DejaVu Sans","fontStyle":"italic","fontSize":25,"align":"left","baseline":"alphabetic","color":"black"},"encoding":{"x":{"field":"x","type":"quantitative"},"y":{"field":"y","type":"quantitative"},"text":{"field":"t"}}}
]},
{"width":18,"height":337,"data":{"name":"RC"},"mark":"rect","encoding":{
"y":{"field":"lo","type":"quantitative","scale":{"type":"pow","exponent":2.5,"domain":[0.457,0.8],"nice":false,"zero":false},"axis":{"orient":"right","values":[0.6,0.7,0.8],"format":".1f","title":null}},
"y2":{"field":"hi"},
"color":{"field":"z","type":"quantitative","scale":{"type":"threshold","domain":[0.504,0.545,0.582,0.616,0.647,0.677,0.704,0.73,0.754,0.778],"range":["#461163","#46307c","#3e4b89","#33648d","#297a8e","#21918c","#22a685","#3ebb74","#6bcc59","#a5da36","#e0e326"]},"legend":null}}}
]}
